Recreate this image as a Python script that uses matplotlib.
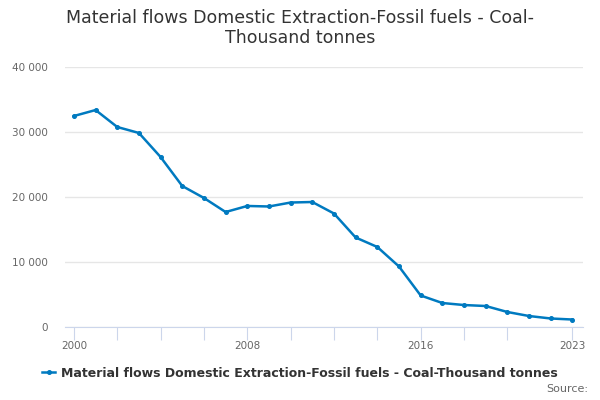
import matplotlib

matplotlib.use("Agg")
import matplotlib.pyplot as plt
from matplotlib.ticker import FuncFormatter

years = list(range(2000, 2024))
coal = [
    32460, 33380, 30770, 29850, 26150, 21690, 19850, 17690,
    18620, 18540, 19150, 19230, 17460, 13770, 12310, 9310,
    4850, 3690, 3380, 3230, 2310, 1690, 1310, 1150,
]
title = "Material flows Domestic Extraction-Fossil fuels - Coal-\nThousand tonnes"
series_name = "Material flows Domestic Extraction-Fossil fuels - Coal-Thousand tonnes"
x_ticks = list(range(2000, 2021, 2)) + [2023]
x_labels = {2000: "2000", 2008: "2008", 2016: "2016", 2023: "2023"}
y_ticks = [0, 10000, 20000, 30000, 40000]

BLUE = "#007ac0"

fig = plt.figure(figsize=(6, 4), dpi=100)
ax = fig.add_axes([0.108, 0.1825, 0.864, 0.65])

ax.plot(years, coal, color=BLUE, lw=1.8, marker="o", ms=2.6, label=series_name)

ax.set_xlim(1999.58, 2023.5)
ax.set_ylim(0, 40000)
ax.set_yticks(y_ticks)
ax.yaxis.set_major_formatter(FuncFormatter(lambda v, _: f"{int(v):,}".replace(",", " ")))
ax.set_xticks(x_ticks)
ax.set_xticklabels([x_labels.get(t, "") for t in x_ticks])

ax.grid(axis="y", color="#e6e6e6", lw=1)
ax.set_axisbelow(True)
for side in ("top", "right", "left"):
    ax.spines[side].set_visible(False)
ax.spines["bottom"].set_color("#ccd6eb")
ax.tick_params(axis="y", length=0, labelsize=7.5, labelcolor="#666666", pad=12)
ax.tick_params(axis="x", length=9, color="#ccd6eb", labelsize=7.5,
               labelcolor="#666666", pad=1)

fig.text(0.5, 0.93, title, ha="center", va="center", fontsize=12.5,
         color="#333333", linespacing=1.15)

leg = fig.legend(loc="center", bbox_to_anchor=(0.5, 0.067), frameon=False,
                 prop={"size": 9, "weight": "bold"}, handlelength=1.0,
                 handletextpad=0.5)
for t in leg.get_texts():
    t.set_color("#333333")

fig.text(0.98, 0.027, "Source:", ha="right", va="center", fontsize=8,
         color="#666666")

fig.savefig("out.png", dpi=100)
